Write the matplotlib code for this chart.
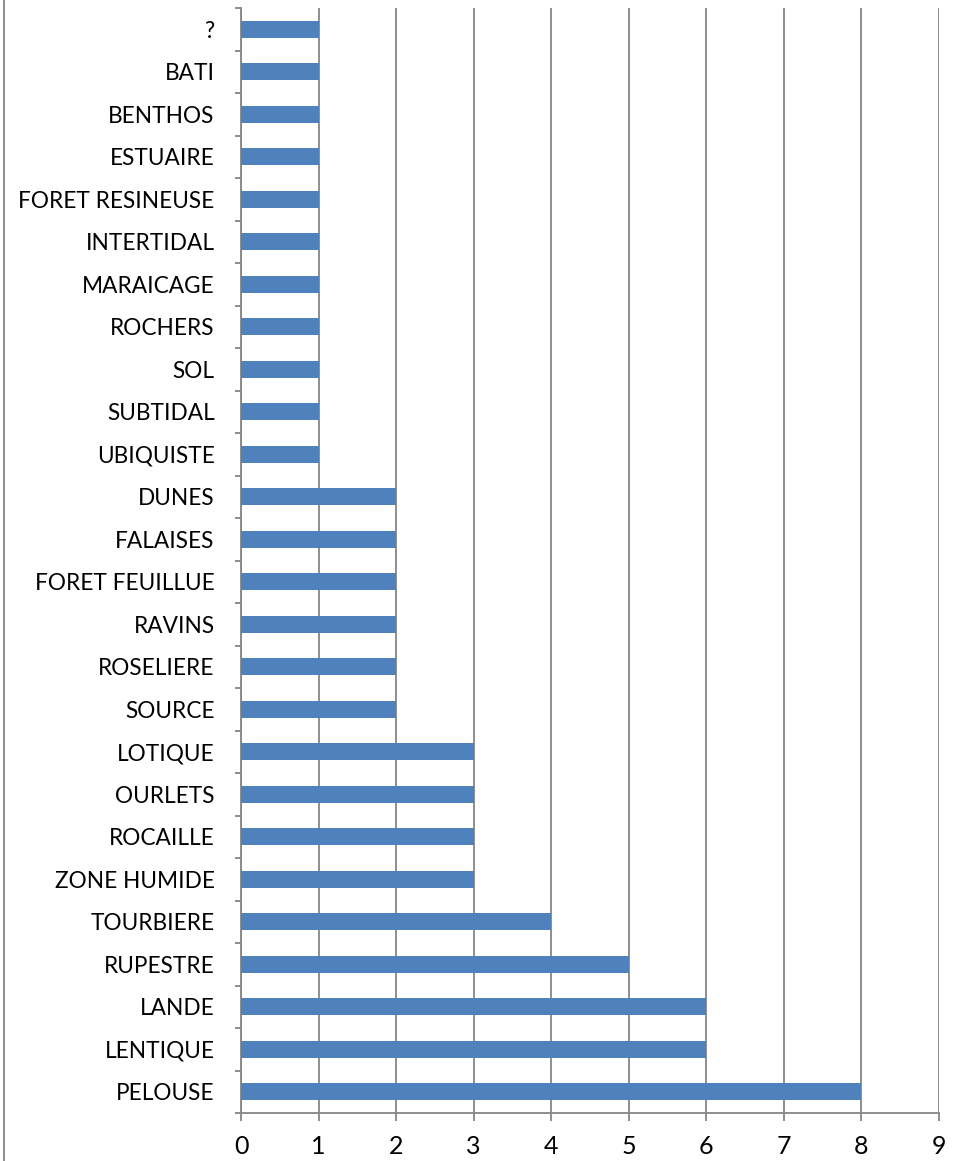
import matplotlib
matplotlib.use("Agg")
import matplotlib.pyplot as plt
from matplotlib.lines import Line2D
import numpy as np

categories = ["?", "BATI", "BENTHOS", "ESTUAIRE", "FORET RESINEUSE", "INTERTIDAL",
              "MARAICAGE", "ROCHERS", "SOL", "SUBTIDAL", "UBIQUISTE", "DUNES",
              "FALAISES", "FORET FEUILLUE", "RAVINS", "ROSELIERE", "SOURCE",
              "LOTIQUE", "OURLETS", "ROCAILLE", "ZONE HUMIDE", "TOURBIERE",
              "RUPESTRE", "LANDE", "LENTIQUE", "PELOUSE"]
values = [1, 1, 1, 1, 1, 1, 1, 1, 1, 1, 1, 2, 2, 2, 2, 2, 2, 3, 3, 3, 3, 4, 5, 6, 6, 8]
xticks = list(range(0, 10))

plt.rcParams['font.family'] = ['Lato', 'DejaVu Sans']

W, H = 971, 1161
fig = plt.figure(figsize=(W / 100, H / 100), dpi=100)
left, right, top, bottom = 241, 939, 8, 1113
ax = fig.add_axes([left / W, 1 - bottom / H, (right - left) / W, (bottom - top) / H])

n = len(categories)
y = np.arange(n)[::-1]
ax.barh(y, values, height=0.4, color="#4F81BD", zorder=3)
ax.set_ylim(-0.5, n - 0.5)
ax.set_xlim(0, 9)
ax.set_xticks(xticks)
ax.set_xticklabels([str(t) for t in xticks])
ax.set_yticks(y)
ax.set_yticklabels(categories)
ax.set_yticks(np.arange(n + 1) - 0.5, minor=True)

gray = "#868686"
ax.grid(axis="x", color=gray, linewidth=1.3, zorder=0)
for s in ["top", "right"]:
    ax.spines[s].set_visible(False)
for s in ["left", "bottom"]:
    ax.spines[s].set_color(gray)
    ax.spines[s].set_linewidth(1.3)

ax.tick_params(axis="y", which="major", length=0, pad=19, labelsize=16.3, labelcolor="black")
ax.tick_params(axis="y", which="minor", length=4.5, width=1.3, color=gray, direction="out")
ax.tick_params(axis="x", which="major", length=6, width=1.3, color=gray, direction="out",
               pad=10, labelsize=18)

fig.add_artist(Line2D([3.5 / W, 3.5 / W], [0, 1], transform=fig.transFigure,
                      color=gray, linewidth=1.3))

fig.savefig("out.png", dpi=100)
